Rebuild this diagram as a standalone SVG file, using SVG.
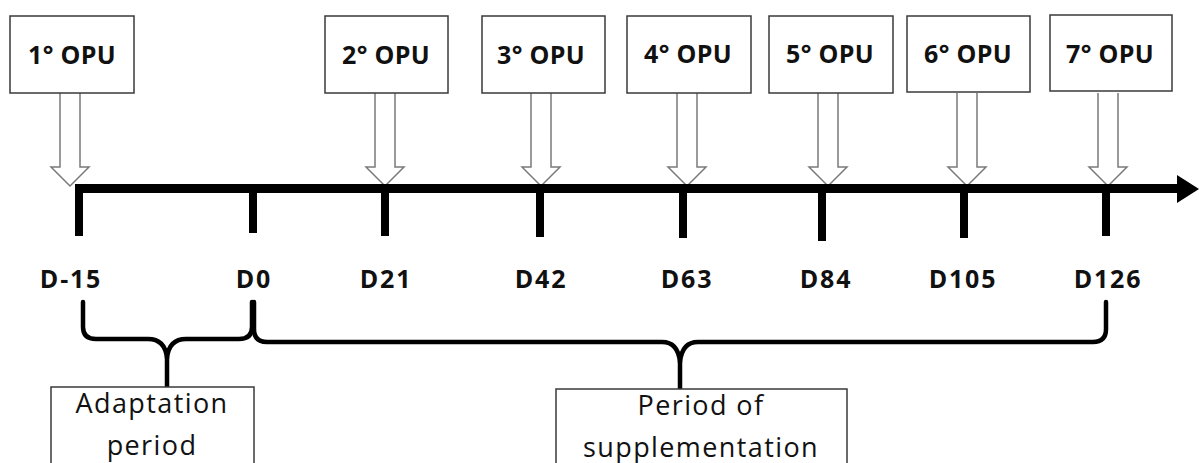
<svg xmlns="http://www.w3.org/2000/svg" width="1199" height="463" viewBox="0 0 1199 463">
<style>
.box{fill:#fff;stroke:#3a3a3a;stroke-width:1.5}
.opu{font-family:"Open Sans","Liberation Sans",sans-serif;font-weight:bold;font-size:25px;fill:#111;text-anchor:middle;letter-spacing:0.3px}
.day{font-family:"Open Sans","Liberation Sans",sans-serif;font-weight:bold;font-size:25px;fill:#111;text-anchor:middle;letter-spacing:1.8px}
.per{font-family:"Open Sans","Liberation Sans",sans-serif;font-size:27px;fill:#111;text-anchor:middle;letter-spacing:1.4px}
.barrow{fill:#fff;stroke:#7a7a7a;stroke-width:1.5;stroke-linejoin:miter}
.tick{stroke:#000;stroke-width:8;fill:none}
.brace{stroke:#000;stroke-width:4.5;fill:none;stroke-linecap:round;stroke-linejoin:round}
</style>
<defs>
<path id="ba" class="barrow" d="M-10,93 V167 H-19 L0,186 L19,167 H10 V93"/>
</defs>
<rect width="1199" height="463" fill="#fff"/>
<g id="connectors">
<use href="#ba" x="70"/>
<use href="#ba" x="385"/>
<use href="#ba" x="541"/>
<use href="#ba" x="687"/>
<use href="#ba" x="828"/>
<use href="#ba" x="967"/>
<use href="#ba" x="1108"/>
<path d="M75,188.5 H1180" stroke="#000" stroke-width="9" fill="none"/>
<polygon points="1177,175 1199,189 1177,203" fill="#000"/>
<path class="tick" d="M79,184 V236 M253,184 V233 M385,184 V236 M540,184 V237 M683,184 V238 M822,184 V241 M964,184 V238 M1106,184 V236"/>
<path class="brace" d="M83,302 V327 Q83,339 96,339 H148 Q165,339 167,358 V387"/>
<path class="brace" d="M252,302 V327 Q252,339 239,339 H186 Q169,339 167,358"/>
<path class="brace" d="M254,302 V329 Q254,342 267,342 H662 Q678,342 680,362 V389"/>
<path class="brace" d="M1106,302 V329 Q1106,342 1093,342 H698 Q682,342 680,362"/>
</g>
<g id="opu1"><rect class="box" x="10" y="16" width="124" height="77"/><text class="opu" x="72" y="64">1° OPU</text></g>
<g id="opu2"><rect class="box" x="325" y="16" width="123" height="77"/><text class="opu" x="386" y="64">2° OPU</text></g>
<g id="opu3"><rect class="box" x="482" y="16" width="123" height="77"/><text class="opu" x="541" y="64">3° OPU</text></g>
<g id="opu4"><rect class="box" x="627" y="16" width="124" height="77"/><text class="opu" x="688" y="63">4° OPU</text></g>
<g id="opu5"><rect class="box" x="769" y="16" width="124" height="77"/><text class="opu" x="830" y="63">5° OPU</text></g>
<g id="opu6"><rect class="box" x="907" y="16" width="123" height="76"/><text class="opu" x="968" y="63">6° OPU</text></g>
<g id="opu7"><rect class="box" x="1050" y="15" width="122" height="76"/><text class="opu" x="1110" y="63">7° OPU</text></g>
<g id="days">
<text class="day" x="71" y="288">D-15</text>
<text class="day" x="254" y="288">D0</text>
<text class="day" x="386" y="288">D21</text>
<text class="day" x="541" y="288">D42</text>
<text class="day" x="687" y="288">D63</text>
<text class="day" x="826" y="288">D84</text>
<text class="day" x="963" y="288">D105</text>
<text class="day" x="1108" y="288">D126</text>
</g>
<g id="adaptation"><rect class="box" x="51" y="387" width="203" height="90"/><text class="per" x="152" y="413">Adaptation</text><text class="per" x="152" y="455">period</text></g>
<g id="supplementation"><rect class="box" x="556" y="389" width="291" height="90"/><text class="per" x="701" y="415">Period of</text><text class="per" x="701" y="457">supplementation</text></g>
</svg>
